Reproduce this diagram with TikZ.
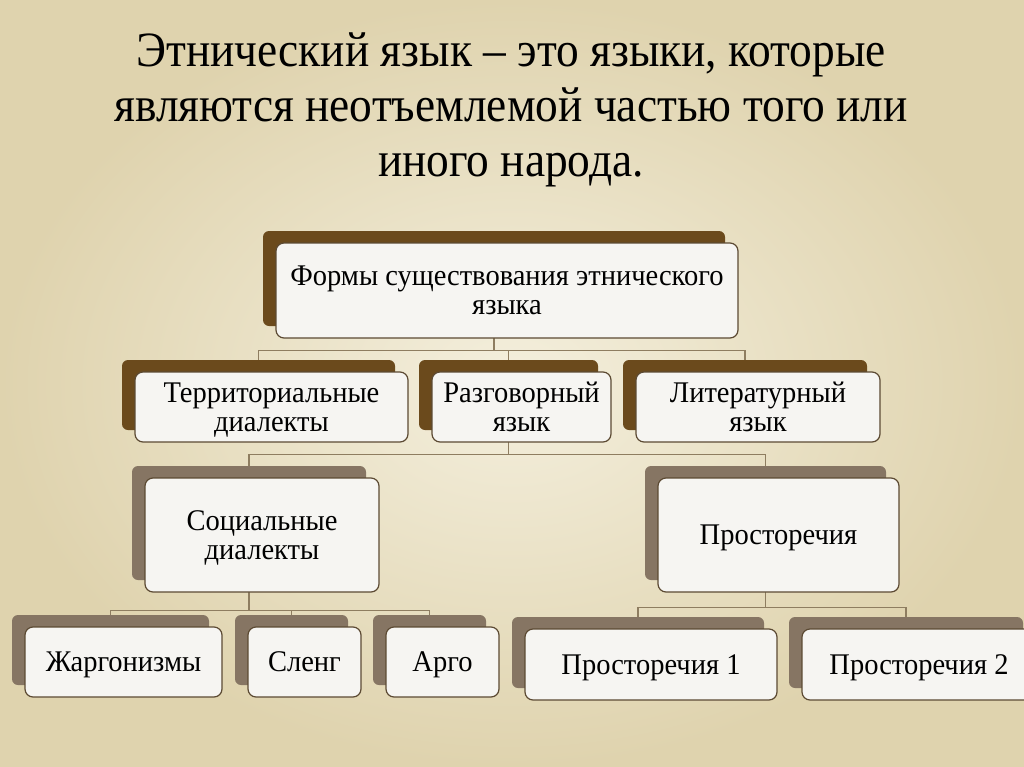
\documentclass[tikz,border=0pt]{standalone}
\usepackage{fontspec}
\setmainfont[FakeStretch=0.95]{Liberation Serif}
\newfontfamily\titlefont[FakeStretch=0.92]{Liberation Serif}
\usetikzlibrary{backgrounds}
\pgfdeclarelayer{paper}
\pgfsetlayers{paper,background,main}

\definecolor{parchin}{HTML}{F4EFDD}
\definecolor{parchout}{HTML}{DFD3AE}
\definecolor{tabbrown}{HTML}{6B4A1C}
\definecolor{tabgrey}{HTML}{867563}
\definecolor{rimbrown}{HTML}{5C4A33}
\definecolor{boxwhite}{HTML}{F6F5F2}
\definecolor{linkbrown}{HTML}{8E7D60}

\begin{document}
\begin{tikzpicture}[x=0.75pt,y=-0.75pt]
\tikzstyle{tabdark} = [rectangle, rounded corners=4.5pt, fill=tabbrown]
\tikzstyle{tablight} = [rectangle, rounded corners=4.5pt, fill=tabgrey]
\tikzstyle{front} = [rectangle, draw=rimbrown, line width=0.9pt, fill=boxwhite,
rounded corners=6pt, align=center, inner sep=0pt, text depth=0pt,
font=\fontsize{22.5}{21.5}\selectfont]
\tikzstyle{link} = [draw=linkbrown, line width=0.9pt]

\begin{pgfonlayer}{paper}
\shade[inner color=parchin, outer color=parchout] (0,0) rectangle (1024,767);
\end{pgfonlayer}
\useasboundingbox (0,0) rectangle (1024,767);

% title
\node[align=center, font=\titlefont\fontsize{37}{41.25}\selectfont] (title) at (511,110)
{Этнический язык – это языки, которые\\являются неотъемлемой частью того или\\иного народа.};

% row 1
\node[tabdark, minimum width=346.5pt, minimum height=71.25pt] (formsback) at (494,278.5) {};
\node[front, minimum width=346.5pt, minimum height=71.25pt] (forms) at (507,290.5)
{Формы существования этнического\\языка};

% row 2
\node[tabdark, minimum width=204.75pt, minimum height=52.5pt] (terrback) at (258.5,395) {};
\node[front, minimum width=204.75pt, minimum height=52.5pt] (terr) at (271.5,407) {Территориальные\\диалекты};
\node[tabdark, minimum width=134.25pt, minimum height=52.5pt] (spokenback) at (508.5,395) {};
\node[front, minimum width=134.25pt, minimum height=52.5pt] (spoken) at (521.5,407) {Разговорный\\язык};
\node[tabdark, minimum width=183pt, minimum height=52.5pt] (literback) at (745,395) {};
\node[front, minimum width=183pt, minimum height=52.5pt] (liter) at (758,407) {Литературный\\язык};

% row 3
\node[tablight, minimum width=175.5pt, minimum height=85.5pt] (socback) at (249,523) {};
\node[front, minimum width=175.5pt, minimum height=85.5pt] (soc) at (262,535) {Социальные\\диалекты};
\node[tablight, minimum width=180.75pt, minimum height=85.5pt] (vernback) at (765.5,523) {};
\node[front, minimum width=180.75pt, minimum height=85.5pt] (vern) at (778.5,535) {Просторечия};

% row 4
\node[tablight, minimum width=147.75pt, minimum height=52.5pt] (jargback) at (110.5,650) {};
\node[front, minimum width=147.75pt, minimum height=52.5pt] (jarg) at (123.5,662) {Жаргонизмы};
\node[tablight, minimum width=84.75pt, minimum height=52.5pt] (slangback) at (291.5,650) {};
\node[front, minimum width=84.75pt, minimum height=52.5pt] (slang) at (304.5,662) {Сленг};
\node[tablight, minimum width=84.75pt, minimum height=52.5pt] (argoback) at (429.5,650) {};
\node[front, minimum width=84.75pt, minimum height=52.5pt] (argo) at (442.5,662) {Арго};
\node[tablight, minimum width=189pt, minimum height=53.25pt] (vernaback) at (638,652.5) {};
\node[front, minimum width=189pt, minimum height=53.25pt] (verna) at (651,664.5) {Просторечия 1};
\node[tablight, minimum width=175.5pt, minimum height=53.25pt] (vernbback) at (906,652.5) {};
\node[front, minimum width=175.5pt, minimum height=53.25pt] (vernb) at (919,664.5) {Просторечия 2};

\begin{scope}[on background layer]
\path[link] (formsback.south) -- ++(0,24) -| (terrback.north);
\path[link] (formsback.south) -- ++(0,24) -| (spokenback.north);
\path[link] (formsback.south) -- ++(0,24) -| (literback.north);
\path[link] (spokenback.south) -- ++(0,24) -| (socback.north);
\path[link] (spokenback.south) -- ++(0,24) -| (vernback.north);
\path[link] (socback.south) -- ++(0,30) -| (jargback.north);
\path[link] (socback.south) -- ++(0,30) -| (slangback.north);
\path[link] (socback.south) -- ++(0,30) -| (argoback.north);
\path[link] (vernback.south) -- ++(0,27) -| (vernaback.north);
\path[link] (vernback.south) -- ++(0,27) -| (vernbback.north);
\end{scope}
\end{tikzpicture}
\end{document}
